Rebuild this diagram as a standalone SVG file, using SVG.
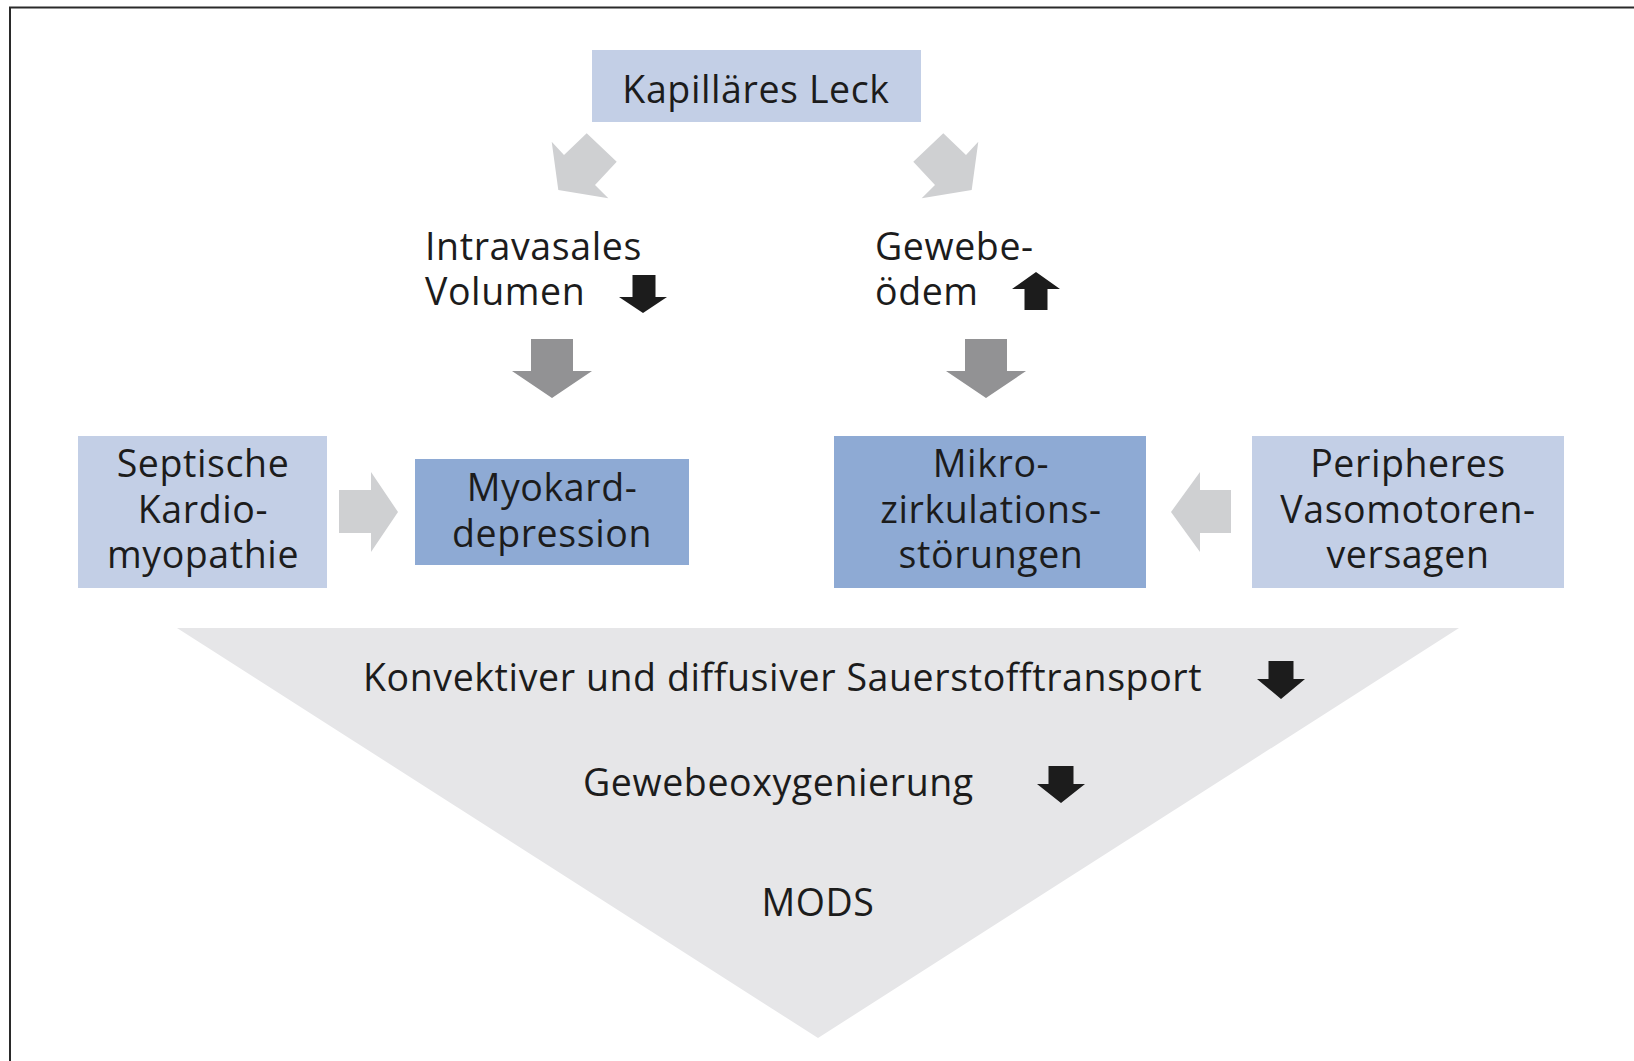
<svg xmlns="http://www.w3.org/2000/svg" width="1634" height="1061" viewBox="0 0 1634 1061">
<defs>
<style>
text{font-family:"Open Sans","Noto Sans","Liberation Sans",sans-serif;font-size:37.5px;fill:#1c1c1c;letter-spacing:0.6px;}
.c{text-anchor:middle;}
.light{fill:#c3cfe6;}
.mid{fill:#8eaad4;}
.ga{fill:#cfd0d2;}
.gm{fill:#929294;}
.blk{fill:#1c1c1c;}
</style>
</defs>
<rect width="1634" height="1061" fill="#ffffff"/>
<path d="M10,1061 V7.5 H1634" fill="none" stroke="#2a2a2a" stroke-width="2"/>

<g id="funnel">
<polygon points="177,628 1459,628 818,1038" fill="#e6e6e8"/>
<text x="363" y="691">Konvektiver und diffusiver Sauerstofftransport</text>
<polygon class="blk" points="1268.5,661 1293.5,661 1293.5,679 1305,679 1281,699 1257,679 1268.5,679"/>
<text x="583" y="796">Gewebeoxygenierung</text>
<polygon class="blk" points="1048.5,766 1073.5,766 1073.5,784 1085,784 1061,803 1037,784 1048.5,784"/>
<text class="c" x="818" y="916">MODS</text>
</g>

<g id="kapillaeres-leck">
<rect class="light" x="592" y="50" width="329" height="72"/>
<text class="c" x="756" y="103">Kapilläres Leck</text>
</g>

<g id="intravasales-volumen">
<text x="425" y="259.5">Intravasales</text>
<text x="425" y="305">Volumen</text>
<polygon class="blk" points="632.5,275 655.5,275 655.5,297 667,297 643,313 619,297 632.5,297"/>
</g>

<g id="gewebeoedem">
<text x="875" y="259.5">Gewebe-</text>
<text x="875" y="305">ödem</text>
<polygon class="blk" points="1024.5,310 1047.5,310 1047.5,289 1060,289 1036,272 1012,289 1024.5,289"/>
</g>

<g id="septische-kardiomyopathie">
<rect class="light" x="78" y="436" width="249" height="152"/>
<text class="c" x="203" y="477">Septische</text>
<text class="c" x="203" y="522.5">Kardio-</text>
<text class="c" x="203" y="568">myopathie</text>
</g>

<g id="myokarddepression">
<rect class="mid" x="415" y="459" width="274" height="106"/>
<text class="c" x="552" y="501">Myokard-</text>
<text class="c" x="552" y="546.5">depression</text>
</g>

<g id="mikrozirkulationsstoerungen">
<rect class="mid" x="834" y="436" width="312" height="152"/>
<text class="c" x="991" y="477">Mikro-</text>
<text class="c" x="991" y="522.5">zirkulations-</text>
<text class="c" x="991" y="568">störungen</text>
</g>

<g id="peripheres-vasomotorenversagen">
<rect class="light" x="1252" y="436" width="312" height="152"/>
<text class="c" x="1408" y="477">Peripheres</text>
<text class="c" x="1408" y="522.5">Vasomotoren-</text>
<text class="c" x="1408" y="568">versagen</text>
</g>

<g id="connectors">
<polygon class="ga" points="586.7,133.3 616.7,161.7 595,185 608.3,198.3 558.3,190 551.7,141.7 564,155"/>
<polygon class="ga" points="943.3,133.3 913.3,161.7 935,185 921.7,198.3 971.7,190 978.3,141.7 966,155"/>
<polygon class="gm" points="531,339 573,339 573,371 592,371 552,398 512,371 531,371"/>
<polygon class="gm" points="965,339 1007,339 1007,371 1026,371 986,398 946,371 965,371"/>
<polygon class="ga" points="339,490 371,490 371,472 398,512 371,552 371,533 339,533"/>
<polygon class="ga" points="1231,490 1200,490 1200,472 1171,512 1200,552 1200,533 1231,533"/>
</g>
</svg>
